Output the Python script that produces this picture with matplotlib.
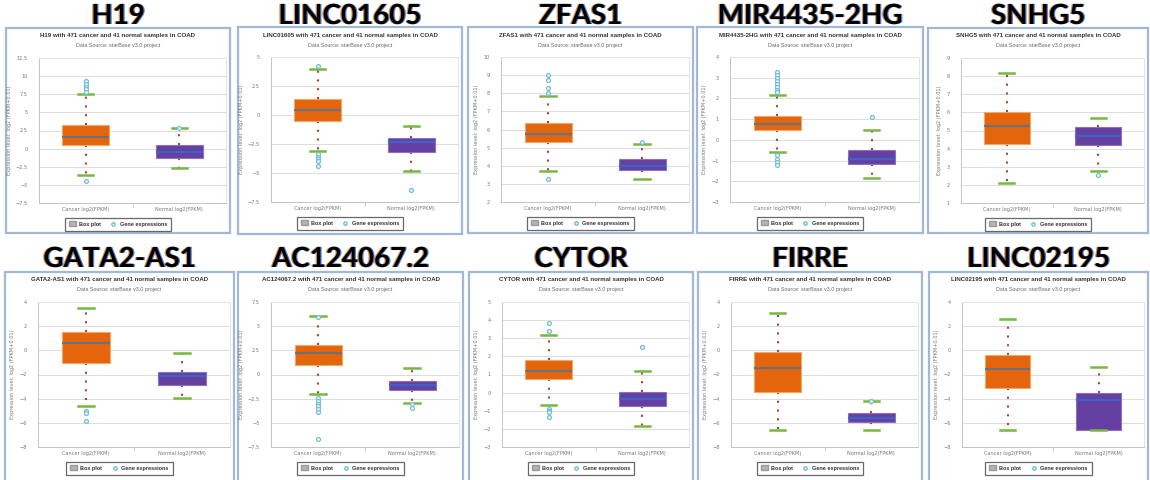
import matplotlib
matplotlib.use('Agg')
import matplotlib.pyplot as plt
import numpy as np
from matplotlib.patches import Rectangle, Patch
from matplotlib.lines import Line2D
import matplotlib.patheffects as pe

# values (log2(FPKM+0.01))
genes = ['H19', 'LINC01605', 'ZFAS1', 'MIR4435-2HG', 'SNHG5',
         'GATA2-AS1', 'AC124067.2', 'CYTOR', 'FIRRE', 'LINC02195']

tick_min = [-7.5, -7.5, 2, -3, 1, -8, -7.5, -3, -8, -8]
tick_max = [12.5, 5, 10, 4, 9, 4, 7.5, 5, 4, 4]
tick_step = [2.5, 2.5, 1, 1, 1, 2, 2.5, 1, 2, 2]

cancer_lo = [-3.6, -3.1, 3.73, -0.59, 2.13, -4.6, -2.03, -0.66, -6.6, -6.6]
cancer_q1 = [0.5, -0.48, 5.29, 0.46, 4.27, -1.05, 1.0, 0.77, -3.46, -3.08]
cancer_med = [1.65, 0.43, 5.77, 0.77, 5.27, 0.58, 2.2, 1.22, -1.5, -1.54]
cancer_q3 = [3.26, 1.34, 6.36, 1.16, 6.0, 1.49, 3.1, 1.82, -0.16, -0.41]
cancer_hi = [7.5, 3.98, 7.87, 2.17, 8.18, 3.5, 6.1, 3.18, 3.1, 2.6]
cancer_out = [[9.3, 8.9, 8.5, 8.2, 7.8, -4.5],
              [4.2, -3.4, -3.6, -3.8, -4.0, -4.4],
              [9.0, 8.75, 8.3, 8.0, 3.27],
              [3.3, 3.15, 3.0, 2.85, 2.7, 2.55, 2.4, 2.3, -0.75, -0.9, -1.05, -1.2],
              [],
              [-5.0, -5.2, -5.86],
              [6.0, -2.4, -2.7, -3.0, -3.3, -3.6, -3.85, -6.67],
              [3.42, 3.82, -0.9, -1.0, -1.06, -1.33],
              [],
              []]

normal_lo = [-2.7, -4.86, 3.27, -1.82, 2.74, -3.93, -2.99, -1.83, -6.6, -6.6]
normal_q1 = [-1.28, -3.18, 3.77, -1.18, 4.2, -2.86, -1.58, -0.75, -5.93, -6.6]
normal_med = [-0.4, -2.33, 4.0, -0.91, 4.7, -2.15, -1.07, -0.33, -5.6, -4.12]
normal_q3 = [0.46, -2.02, 4.37, -0.51, 5.2, -1.78, -0.65, 0.04, -5.19, -3.52]
normal_hi = [2.84, -0.94, 5.22, 0.48, 5.68, -0.2, 0.69, 1.2, -4.16, -1.37]
normal_out = [[2.9], [-6.5], [5.3], [1.08], [2.55], [], [-3.1, -3.5], [2.54], [-4.16], []]

group_labels = ['Cancer log2(FPKM)', 'Normal log2(FPKM)']

W, H = 1150, 480
fig = plt.figure(figsize=(W / 100, H / 100), dpi=100)
fig.patch.set_facecolor('white')

# frames of the ten screenshots, px from top-left: x, y, w, h
frames = [(6, 28, 224, 205), (238, 27, 224, 207), (468, 27, 225, 206),
          (697, 27, 226, 206), (928, 28, 220, 205),
          (5, 272, 229, 210), (238, 272, 225, 210), (469, 272, 224, 210),
          (698, 272, 224, 210), (929, 272, 219, 210)]
title_y = [16] * 5 + [259] * 5

# orange / blue colour fringe around the big names
fringe = [pe.SimplePatchShadow(offset=(-0.9, 0), shadow_rgbFace='#d9822b', alpha=0.9),
          pe.SimplePatchShadow(offset=(0.9, 0), shadow_rgbFace='#3b6fd1', alpha=0.9),
          pe.Normal()]


def fx(x):
    return x / W


def fy(y):
    return 1 - y / H


def make_stats(lo, q1, med, q3, hi, out):
    return dict(whislo=lo, q1=q1, med=med, q3=q3, whishi=hi, fliers=out)


for i, gene in enumerate(genes):
    x0, y0, w, h = frames[i]
    cx = fx(x0 + w / 2)

    fig.text(cx, fy(title_y[i]), gene, ha='center', va='center',
             fontsize=20, fontweight='bold', family='Lato', color='black',
             path_effects=fringe)

    # screenshot frame
    fig.patches.append(Rectangle((fx(x0), fy(y0 + h)), w / W, h / H,
                                 transform=fig.transFigure, facecolor='white',
                                 edgecolor='#a3b8d4', linewidth=1.6, zorder=-5))

    fig.text(cx, fy(y0 + 8), f'{gene} with 471 cancer and 41 normal samples in COAD',
             ha='center', va='center', fontsize=4.4, fontweight='bold',
             family='Liberation Sans', color='#333333')
    fig.text(cx, fy(y0 + 18), 'Data Source: starBase v3.0 project',
             ha='center', va='center', fontsize=3.9, family='Liberation Sans',
             color='#666666')

    left, right = x0 + 33, x0 + w - 4
    top, bottom = y0 + 30, y0 + 175
    ax = fig.add_axes([fx(left), fy(bottom), (right - left) / W, (bottom - top) / H])
    ax.set_facecolor('white')

    stats = [make_stats(cancer_lo[i], cancer_q1[i], cancer_med[i], cancer_q3[i],
                        cancer_hi[i], cancer_out[i]),
             make_stats(normal_lo[i], normal_q1[i], normal_med[i], normal_q3[i],
                        normal_hi[i], normal_out[i])]
    bp = ax.bxp(stats, positions=[0.5, 1.5], widths=0.5, capwidths=0.16,
                patch_artist=True, showfliers=True,
                whiskerprops=dict(color='#a4472f', linewidth=1.5,
                                  linestyle=(0, (1, 3.2)), dash_capstyle='butt'),
                capprops=dict(color='#77b843', linewidth=1.8),
                flierprops=dict(marker='o', markersize=2.8, markerfacecolor='white',
                                markeredgecolor='#6fbfd3', markeredgewidth=0.9),
                medianprops=dict(linewidth=1.6))
    bp['boxes'][0].set(facecolor='#e4650c', edgecolor='#f3a868', linewidth=0.8)
    bp['boxes'][1].set(facecolor='#6540a0', edgecolor='#8a70c0', linewidth=0.8)
    bp['medians'][0].set_color('#6d6f7a')
    bp['medians'][1].set_color('#3f62c4')
    for art in bp['whiskers']:
        art.set_zorder(1.5)
    for art in bp['boxes'] + bp['medians'] + bp['caps']:
        art.set_zorder(3)
    for art in bp['fliers']:
        art.set_zorder(4)

    ticks = np.arange(tick_min[i], tick_max[i] + tick_step[i] / 2, tick_step[i])
    ax.set_ylim(tick_min[i], tick_max[i])
    ax.set_yticks(ticks)
    ax.set_yticklabels([f'{t:g}'.replace('-', '\u2212') for t in ticks])
    ax.set_xlim(0, 2)
    ax.set_xticks([0.5, 1.5])
    ax.set_xticklabels(group_labels)
    ax.set_xticks([1], minor=True)
    ax.tick_params(axis='x', which='major', length=0, labelsize=3.6, pad=3,
                   colors='#777777')
    ax.tick_params(axis='x', which='minor', length=3, color='#c8c8c8')
    ax.tick_params(axis='y', length=0, labelsize=3.6, pad=8, colors='#777777')
    ax.grid(axis='y', color='#dcdcdc', linewidth=0.7)
    ax.set_axisbelow(True)
    for side in ['top', 'right']:
        ax.spines[side].set_color('#e4e4e4')
    for side in ['left', 'bottom']:
        ax.spines[side].set_color('#c4c4c4')
    for sp in ax.spines.values():
        sp.set_linewidth(0.7)
    ax.set_ylabel('Expression level: log2 (FPKM+0.01)', fontsize=3.6,
                  color='#777777', labelpad=3)

    handles = [Patch(facecolor='#b4b4b4', edgecolor='#999999', label='Box plot'),
               Line2D([], [], marker='o', linestyle='none', markersize=2.4,
                      markerfacecolor='white', markeredgecolor='#6fbfd3',
                      label='Gene expressions')]
    leg = fig.legend(handles=handles, loc='center',
                     bbox_to_anchor=(cx, fy(y0 + 196)), ncol=2,
                     prop={'family': 'Liberation Sans', 'size': 4, 'weight': 'bold'},
                     frameon=True, fancybox=False, edgecolor='#444444',
                     handlelength=1.2, handleheight=0.9, handletextpad=0.6,
                     columnspacing=1.6, borderpad=0.7)
    leg.get_frame().set_linewidth(0.9)
    for t in leg.get_texts():
        t.set_color('#333333')

fig.savefig('out.png', dpi=100, facecolor='white')
